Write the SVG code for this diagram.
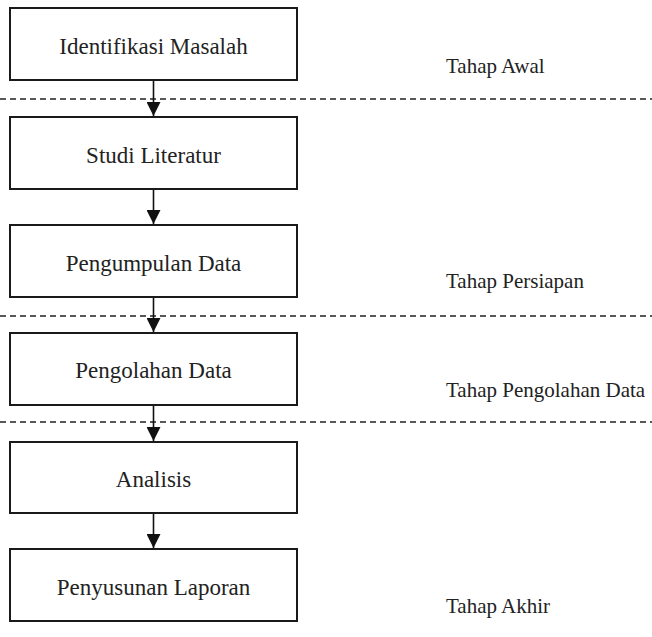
<svg xmlns="http://www.w3.org/2000/svg" width="652" height="637" viewBox="0 0 652 637">
<defs>
<marker id="ah" markerUnits="userSpaceOnUse" markerWidth="14" markerHeight="14" viewBox="0 0 14 14" refX="14" refY="7" orient="auto">
<path d="M0,0 L14,7 L0,14 Z" fill="#111"/>
</marker>
</defs>
<rect width="652" height="637" fill="#fff"/>
<g id="dividers" stroke="#222" stroke-width="1.6" stroke-dasharray="6 4" fill="none">
<line x1="0" y1="99" x2="652" y2="99"/>
<line x1="0" y1="316" x2="652" y2="316"/>
<line x1="0" y1="422" x2="652" y2="422"/>
</g>
<g id="nodes" font-family="Liberation Serif, serif" font-size="23" text-anchor="middle">
<g id="n1"><rect x="10" y="8" width="287" height="72" fill="#fff" stroke="#1a1a1a" stroke-width="2"/><text x="153.5" y="54" fill="#222">Identifikasi Masalah</text></g>
<g id="n2"><rect x="10" y="117" width="287" height="72" fill="#fff" stroke="#1a1a1a" stroke-width="2"/><text x="153.5" y="163" fill="#222">Studi Literatur</text></g>
<g id="n3"><rect x="10" y="225" width="287" height="72" fill="#fff" stroke="#1a1a1a" stroke-width="2"/><text x="153.5" y="271" fill="#222">Pengumpulan Data</text></g>
<g id="n4"><rect x="10" y="333" width="287" height="72" fill="#fff" stroke="#1a1a1a" stroke-width="2"/><text x="153.5" y="378" fill="#222">Pengolahan Data</text></g>
<g id="n5"><rect x="10" y="442" width="287" height="71" fill="#fff" stroke="#1a1a1a" stroke-width="2"/><text x="153.5" y="487" fill="#222">Analisis</text></g>
<g id="n6"><rect x="10" y="549" width="287" height="72" fill="#fff" stroke="#1a1a1a" stroke-width="2"/><text x="153.5" y="595" fill="#222">Penyusunan Laporan</text></g>
</g>
<g id="stages" font-family="Liberation Serif, serif" font-size="21" fill="#222">
<text x="446" y="73">Tahap Awal</text>
<text x="446" y="288">Tahap Persiapan</text>
<text x="446" y="397">Tahap Pengolahan Data</text>
<text x="446" y="613">Tahap Akhir</text>
</g>
<g id="connectors" stroke="#111" stroke-width="1.6" fill="none">
<line x1="153.5" y1="81" x2="153.5" y2="116" marker-end="url(#ah)"/>
<line x1="153.5" y1="190" x2="153.5" y2="224" marker-end="url(#ah)"/>
<line x1="153.5" y1="298" x2="153.5" y2="332" marker-end="url(#ah)"/>
<line x1="153.5" y1="406" x2="153.5" y2="441" marker-end="url(#ah)"/>
<line x1="153.5" y1="514" x2="153.5" y2="548" marker-end="url(#ah)"/>
</g>
</svg>
